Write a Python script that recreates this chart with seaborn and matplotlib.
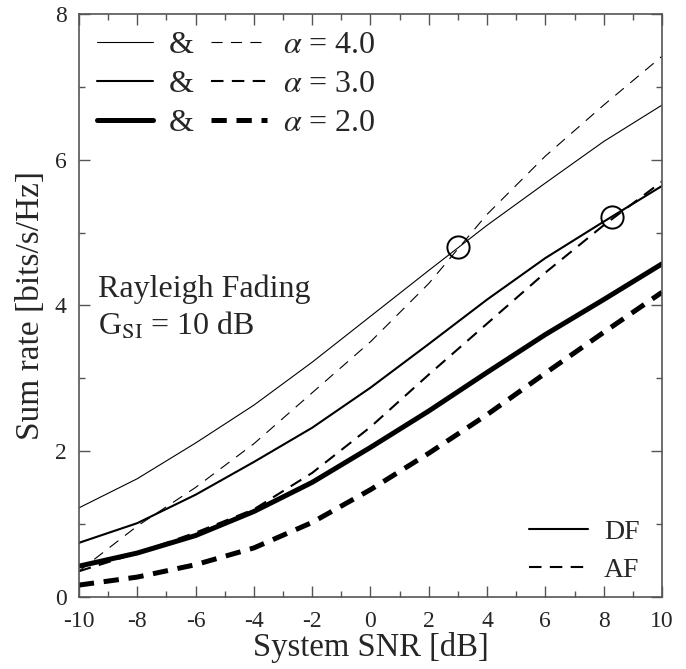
import numpy as np
import pandas as pd
import seaborn as sns
import matplotlib.pyplot as plt
from matplotlib.lines import Line2D
from matplotlib.ticker import MultipleLocator

##datos
snr = [-10, -8, -6, -4, -2, 0, 2, 4, 6, 8, 10]
df_a4 = [1.22, 1.62, 2.11, 2.63, 3.22, 3.85, 4.48, 5.10, 5.68, 6.25, 6.75]
af_a4 = [0.35, 0.97, 1.50, 2.10, 2.80, 3.50, 4.30, 5.25, 6.05, 6.75, 7.42]
df_a3 = [0.74, 1.01, 1.40, 1.85, 2.32, 2.87, 3.47, 4.08, 4.65, 5.15, 5.64]
af_a3 = [0.35, 0.60, 0.88, 1.20, 1.70, 2.33, 3.05, 3.75, 4.45, 5.10, 5.70]
df_a2 = [0.42, 0.60, 0.84, 1.17, 1.57, 2.05, 2.55, 3.08, 3.60, 4.08, 4.57]
af_a2 = [0.16, 0.27, 0.44, 0.67, 1.02, 1.47, 1.97, 2.50, 3.07, 3.63, 4.18]
alphas = ['4.0', '3.0', '2.0']
cross_snr = [3.0, 8.3]
cross_rate = [4.8, 5.22]

curvas = {('DF', '4.0'): df_a4, ('AF', '4.0'): af_a4,
          ('DF', '3.0'): df_a3, ('AF', '3.0'): af_a3,
          ('DF', '2.0'): df_a2, ('AF', '2.0'): af_a2}
filas = []
for (esquema, a), vals in curvas.items():
    for s, r in zip(snr, vals):
        filas.append({'snr': s, 'rate': r, 'scheme': esquema, 'alpha': a})
datos = pd.DataFrame(filas)

##estilos
sns.set_style("ticks")
plt.rcParams['font.family'] = ['Liberation Serif', 'DejaVu Serif']
plt.rcParams['mathtext.fontset'] = 'stix'
plt.rcParams['lines.scale_dashes'] = False
plt.rcParams['axes.unicode_minus'] = False
grosor = {'4.0': 0.8, '3.0': 1.5, '2.0': 3.6}
guiones = {'4.0': (0, (8, 6)), '3.0': (0, (9, 6)), '2.0': (0, (11, 7))}

fig, ax = plt.subplots(figsize=(6.86, 6.69), dpi=100)
fig.subplots_adjust(left=0.115, right=0.965, top=0.979, bottom=0.108)

for a in alphas:
    sub = datos[datos.alpha == a]
    sns.lineplot(ax=ax, data=sub[sub.scheme == 'DF'], x='snr', y='rate', color='k',
                 linewidth=grosor[a], linestyle='-')
    sns.lineplot(ax=ax, data=sub[sub.scheme == 'AF'], x='snr', y='rate', color='k',
                 linewidth=grosor[a], linestyle=guiones[a])

ax.plot(cross_snr, cross_rate, linestyle='none', marker='o', markersize=16,
        markerfacecolor='none', markeredgecolor='k', markeredgewidth=1.4)

ax.set_xlim(-10, 10)
ax.set_ylim(0, 8)
ax.xaxis.set_major_locator(MultipleLocator(2))
ax.xaxis.set_minor_locator(MultipleLocator(1))
ax.yaxis.set_major_locator(MultipleLocator(2))
ax.yaxis.set_minor_locator(MultipleLocator(1))
ax.tick_params(which='both', direction='in', top=True, right=True, color='#555555', labelsize=17)
ax.tick_params(which='major', length=8, width=1)
ax.tick_params(which='minor', length=4.5, width=1)
ax.tick_params(axis='x', pad=10)
ax.tick_params(axis='y', pad=9)
for sp in ax.spines.values():
    sp.set_color('#555555')
    sp.set_linewidth(1.2)

ax.set_xlabel('System SNR [dB]', fontsize=23.5, labelpad=0)
ax.set_ylabel('Sum rate [bits/s/Hz]', fontsize=24, labelpad=6)

##leyenda alpha
solidas = [Line2D([], [], color='k', lw=grosor[a]) for a in alphas]
rayadas = [Line2D([], [], color='k', lw=grosor[a], ls=guiones[a]) for a in alphas]
etiquetas = ['&'] * 3 + [r'$\alpha$ = ' + a for a in alphas]
leg1 = ax.legend(solidas + rayadas, etiquetas, ncol=2, loc='upper left',
                 bbox_to_anchor=(0.031, 0.971), frameon=False, fontsize=23,
                 borderpad=0, borderaxespad=0, handlelength=1.75, handletextpad=0.5,
                 columnspacing=0.55, labelspacing=0.3)
ax.add_artist(leg1)

##leyenda esquema
esq = [Line2D([], [], color='k', lw=1.5), Line2D([], [], color='k', lw=1.5, ls=guiones['3.0'])]
ax.legend(esq, ['DF', 'AF'], loc='lower right', bbox_to_anchor=(0.962, 0.024),
          frameon=False, fontsize=20, borderpad=0, borderaxespad=0,
          handlelength=2.1, handletextpad=0.6, labelspacing=0.45)

ax.text(0.033, 0.515, 'Rayleigh Fading', transform=ax.transAxes, fontsize=23, va='baseline')
ax.text(0.033, 0.449, r'G$_{\mathrm{SI}}$ = 10 dB', transform=ax.transAxes, fontsize=23, va='baseline')

plt.savefig('out.png', dpi=100)
